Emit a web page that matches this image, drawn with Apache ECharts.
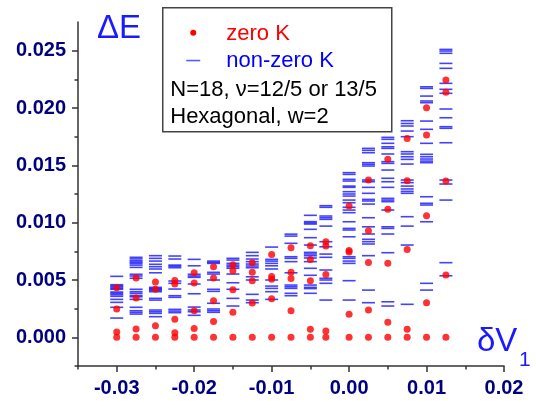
<!DOCTYPE html>
<html>
<head>
<meta charset="utf-8">
<title>Delta E vs delta V1</title>
<script src="https://cdn.jsdelivr.net/npm/echarts@6/dist/echarts.min.js"></script>
<style>
  html, body { margin: 0; padding: 0; background: #fff; }
  #chart { width: 536px; height: 401px; }
</style>
</head>
<body>
<div id="chart"></div>
<script>
// delta V1 values of the 18 columns
const xs = [-0.03, -0.0275, -0.025, -0.0225, -0.02, -0.0175, -0.015, -0.0125, -0.01,
  -0.0075, -0.005, -0.003, 0, 0.0025, 0.005, 0.0075, 0.01, 0.0125]

// zero K levels, one list per column
const zeroK = [
  [0.00433, 0.00248, 0.00046, 0],
  [0.00517, 0.00343, 0.00072, 0],
  [0.00482, 0.00419, 0.00101, 0],
  [0.00495, 0.00465, 0.00157, 0.0004, 0],
  [0.00563, 0.00474, 0.00232, 0.00078, 0],
  [0.00616, 0.00517, 0.0032, 0.00139, 0],
  [0.00632, 0.0058, 0.00416, 0.00218, 0],
  [0.00651, 0.00567, 0.00494, 0.003, 0],
  [0.00723, 0.00531, 0.00506, 0.00337, 0],
  [0.00781, 0.00567, 0.00512, 0.00232, 0],
  [0.00798, 0.00679, 0.00493, 0.0007, 0],
  [0.00834, 0.00796, 0.00549, 0.00055, 0],
  [0.01146, 0.00757, 0.00745, 0.00202, 0],
  [0.01372, 0.0093, 0.00653, 0.00238, 0],
  [0.01552, 0.01116, 0.00645, 0.00131, 0],
  [0.01735, 0.01366, 0.00767, 0.0007, 0],
  [0.02002, 0.01764, 0.0106, 0.00302, 0],
  [0.02244, 0.02137, 0.01363, 0.00543, 0]
]

// non-zero K levels, one list per column
const nonZeroK = [
  [0.00532, 0.00459, 0.00449, 0.00439, 0.00428, 0.00419, 0.00395, 0.00385, 0.00372, 0.00358, 0.00331, 0.00305, 0.00262, 0.00168],
  [0.00698, 0.00684, 0.00668, 0.00656, 0.00645, 0.0063, 0.0061, 0.0055, 0.00535, 0.00515, 0.00419, 0.00398, 0.00384, 0.00365, 0.00354, 0.00331, 0.00262, 0.00232, 0.00218, 0.00203],
  [0.00712, 0.00689, 0.00665, 0.00637, 0.00616, 0.00596, 0.00563, 0.00436, 0.00425, 0.00419, 0.00408, 0.00398, 0.0034, 0.00325, 0.00238, 0.00223, 0.00209, 0.0018],
  [0.00709, 0.00683, 0.0063, 0.0062, 0.00607, 0.00491, 0.00471, 0.00421, 0.00363, 0.00349, 0.00244, 0.00229, 0.00215],
  [0.0068, 0.00624, 0.0055, 0.00535, 0.00523, 0.00465, 0.0038, 0.00264, 0.00238, 0.00223, 0.00192],
  [0.00665, 0.00654, 0.00645, 0.00567, 0.00552, 0.005, 0.00419, 0.00401, 0.00297, 0.00247, 0.00232, 0.00218],
  [0.00689, 0.00674, 0.00645, 0.0063, 0.00616, 0.00602, 0.00552, 0.00476, 0.00419, 0.0034, 0.00273],
  [0.00741, 0.00712, 0.00683, 0.0066, 0.00639, 0.00622, 0.00607, 0.00528, 0.005, 0.00375, 0.00325, 0.00302],
  [0.00787, 0.0068, 0.00665, 0.00645, 0.00624, 0.00596, 0.005, 0.00447, 0.00427, 0.00398, 0.00331],
  [0.009, 0.00883, 0.0082, 0.00703, 0.00689, 0.0066, 0.00563, 0.00456, 0.00441, 0.00427, 0.00384, 0.00363],
  [0.01064, 0.01009, 0.00998, 0.00988, 0.00942, 0.00869, 0.00805, 0.00741, 0.00727, 0.00712, 0.00692, 0.0066, 0.00602, 0.00541, 0.00456, 0.00436, 0.00425, 0.00384],
  [0.01148, 0.01134, 0.01058, 0.01043, 0.01029, 0.0097, 0.00834, 0.0079, 0.00726, 0.00698, 0.00587, 0.00515, 0.005, 0.00471, 0.00325],
  [0.01436, 0.01421, 0.01378, 0.01363, 0.01319, 0.01308, 0.0127, 0.0125, 0.01232, 0.01197, 0.01174, 0.01134, 0.0111, 0.01087, 0.01008, 0.0095, 0.00936, 0.00877, 0.00703, 0.00689, 0.00665, 0.00645, 0.00494, 0.00325],
  [0.01648, 0.01631, 0.0161, 0.01523, 0.01509, 0.01494, 0.01372, 0.01357, 0.01308, 0.01256, 0.01203, 0.01189, 0.01162, 0.01043, 0.00964, 0.00901, 0.00855, 0.00834, 0.00814, 0.00712, 0.00412, 0.00302],
  [0.01744, 0.01727, 0.01692, 0.01662, 0.01648, 0.01599, 0.01532, 0.01517, 0.01459, 0.01387, 0.01357, 0.01308, 0.01212, 0.01197, 0.01183, 0.0111, 0.00964, 0.0095, 0.00901, 0.00738, 0.0031, 0.00273],
  [0.01889, 0.01865, 0.01843, 0.01799, 0.0175, 0.01619, 0.01599, 0.01575, 0.01552, 0.01511, 0.01372, 0.01349, 0.01319, 0.01294, 0.01273, 0.01256, 0.01052, 0.0097, 0.00805, 0.00288],
  [0.02185, 0.02171, 0.02104, 0.02061, 0.02046, 0.01886, 0.01814, 0.01692, 0.01596, 0.01575, 0.01555, 0.01537, 0.01523, 0.01226, 0.01169, 0.01154, 0.01008, 0.00471, 0.00412],
  [0.02511, 0.02497, 0.02477, 0.02389, 0.02346, 0.02215, 0.02163, 0.02128, 0.01991, 0.01915, 0.01837, 0.01823, 0.01697, 0.01372, 0.01337, 0.01197, 0.00651, 0.00537]
]

const xMajor = [-0.03, -0.02, -0.01, 0, 0.01, 0.02]
const xMinor = [-0.035, -0.025, -0.015, -0.005, 0.005, 0.015]
const yMajor = [0, 0.005, 0.01, 0.015, 0.02, 0.025]
const yMinor = [-0.0025, 0.0025, 0.0075, 0.0125, 0.0175, 0.0225]

const toPoints = (cols) => cols.flatMap((col, i) => col.map((v) => [xs[i], v]))

const font = 'Liberation Sans, Arial, sans-serif'
const axisColor = '#333'
const labelStyle = { fontSize: 20, fontWeight: 'bold', color: '#000080', fontFamily: font }

const chart = echarts.init(document.getElementById('chart'))

const xBase = { type: 'value', min: -0.035, max: 0.02, splitLine: { show: false } }
const yBase = { type: 'value', min: -0.0025, max: 0.0275, splitLine: { show: false } }

const option = {
  animation: false,
  grid: { left: 78, right: 32, top: 22, bottom: 35 },
  xAxis: [
    {
      ...xBase,
      position: 'bottom',
      axisLine: { onZero: false, lineStyle: { color: axisColor, width: 1.5 } },
      axisTick: { customValues: xMajor, length: 6, lineStyle: { color: axisColor, width: 1.5 } },
      axisLabel: { customValues: xMajor, margin: 12, formatter: (v) => v.toFixed(2), ...labelStyle }
    },
    {
      ...xBase,
      position: 'bottom',
      axisLine: { show: false, onZero: false },
      axisTick: { customValues: xMinor, length: 3.5, lineStyle: { color: axisColor, width: 1.5 } },
      axisLabel: { show: false }
    }
  ],
  yAxis: [
    {
      ...yBase,
      position: 'left',
      axisLine: { show: true, onZero: false, lineStyle: { color: axisColor, width: 1.5 } },
      axisTick: { show: true, customValues: yMajor, length: 6, lineStyle: { color: axisColor, width: 1.5 } },
      axisLabel: { customValues: yMajor, margin: 12, formatter: (v) => v.toFixed(3), ...labelStyle }
    },
    {
      ...yBase,
      position: 'left',
      axisLine: { show: false, onZero: false },
      axisTick: { show: true, customValues: yMinor, length: 3.5, lineStyle: { color: axisColor, width: 1.5 } },
      axisLabel: { show: false }
    }
  ],
  series: [
    {
      name: 'non-zero K',
      type: 'scatter',
      symbol: 'rect',
      symbolSize: [13, 1.6],
      itemStyle: { color: '#1414ff' },
      data: toPoints(nonZeroK)
    },
    {
      name: 'zero K',
      type: 'scatter',
      symbol: 'circle',
      symbolSize: 7,
      itemStyle: { color: '#ff0000' },
      data: toPoints(zeroK)
    }
  ],
  graphic: [
    { type: 'text', left: 97, top: 12, style: { text: 'ΔE', fontSize: 33, fill: '#1a1aff', fontFamily: font } },
    { type: 'text', left: 477, top: 325, style: { text: 'δV', fontSize: 33, fill: '#1a1aff', fontFamily: font } },
    { type: 'text', left: 519, top: 350, style: { text: '1', fontSize: 21, fill: '#1a1aff', fontFamily: font } },
    {
      type: 'group',
      left: 162,
      top: 7,
      children: [
        { type: 'rect', shape: { x: 0.5, y: 0.5, width: 229, height: 124 }, style: { fill: '#fff', stroke: '#444', lineWidth: 1.5 } },
        { type: 'circle', shape: { cx: 31, cy: 25.5, r: 3 }, style: { fill: '#ff0000' } },
        { type: 'rect', shape: { x: 24, y: 52.5, width: 14, height: 1.6 }, style: { fill: '#5a5aff' } },
        { type: 'text', x: 64, y: 27, style: { text: 'zero K', fontSize: 22, fill: '#ff0000', fontFamily: font, verticalAlign: 'middle' } },
        { type: 'text', x: 64, y: 54, style: { text: 'non-zero K', fontSize: 22, fill: '#0000ff', fontFamily: font, verticalAlign: 'middle' } },
        { type: 'text', x: 8, y: 82.5, style: { text: 'N=18, ν=12/5 or 13/5', fontSize: 22, fill: '#000', fontFamily: font, verticalAlign: 'middle' } },
        { type: 'text', x: 8, y: 109.5, style: { text: 'Hexagonal, w=2', fontSize: 22, fill: '#000', fontFamily: font, verticalAlign: 'middle' } }
      ]
    }
  ]
}

chart.setOption(option)
</script>
</body>
</html>
